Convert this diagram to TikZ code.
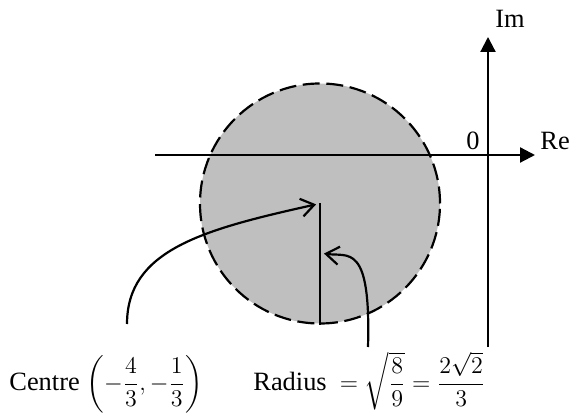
\documentclass[tikz,border=0pt]{standalone}
\usepackage{amsmath}
\usepackage{fontspec}
\setmainfont{Liberation Serif}
\usetikzlibrary{arrows.meta,positioning}

\begin{document}
\begin{tikzpicture}[x=0.5pt,y=0.5pt,
	font=\fontsize{13.2}{15}\selectfont,
	axis/.style={line width=1.1pt, -{Triangle[length=7.5pt,width=7.5pt]}},
	pointer/.style={line width=1.1pt, -{Straight Barb[length=6.5pt,width=9pt]}, shorten >=2pt},
	lbl/.style={inner sep=0pt}]
	\useasboundingbox (0,0) rectangle (571,417);
	% shaded disc
	\node (disc) [circle, minimum size=120pt, inner sep=0pt, fill=black!25, draw, line width=1.1pt, dash pattern=on 8.5pt off 3.3pt] at (320,213.5) {};
	\draw [line width=1.1pt] (disc.center) -- (disc.south);
	
	% axes
	\coordinate (O) at (488,262);
	\coordinate (xstart) at (155,262);
	\coordinate (xend) at (535,262);
	\coordinate (ystart) at (488,70);
	\coordinate (yend) at (488,380);
	\draw [axis] (xstart) -- (xend);
	\draw [axis] (ystart) -- (yend);
	\node (zero) [lbl, above left=2.5pt and 4pt of O] {0};
	\node (re) [lbl, above right=2.5pt and 2.5pt of xend] {Re};
	\node (im) [lbl, above right=4.5pt and 3.5pt of yend] {Im};
	
	% labels
	\node (centre) [lbl, anchor=base west] at (9,27) {Centre $\left(-\dfrac{4}{3},-\dfrac{1}{3}\right)$};
	\node (radius) [lbl, anchor=base west] at (253,27) {Radius\enspace$=\sqrt{\dfrac{8}{9}}=\dfrac{2\sqrt{2}}{3}$};
	
	\coordinate (ctail) at (127,93);
	\coordinate (rtail) at (368,70);
	\coordinate (rmid) at (320,164);
	\draw [pointer] (ctail) .. controls +(0,74) and +(-117,-26) .. (disc.center);
	\draw [pointer] (rtail) .. controls +(3,105) and +(28.5,-4) .. (rmid);
	%\draw [pointer] (rtail) to[out=90, in=-15] (rmid);
\end{tikzpicture}
\end{document}
